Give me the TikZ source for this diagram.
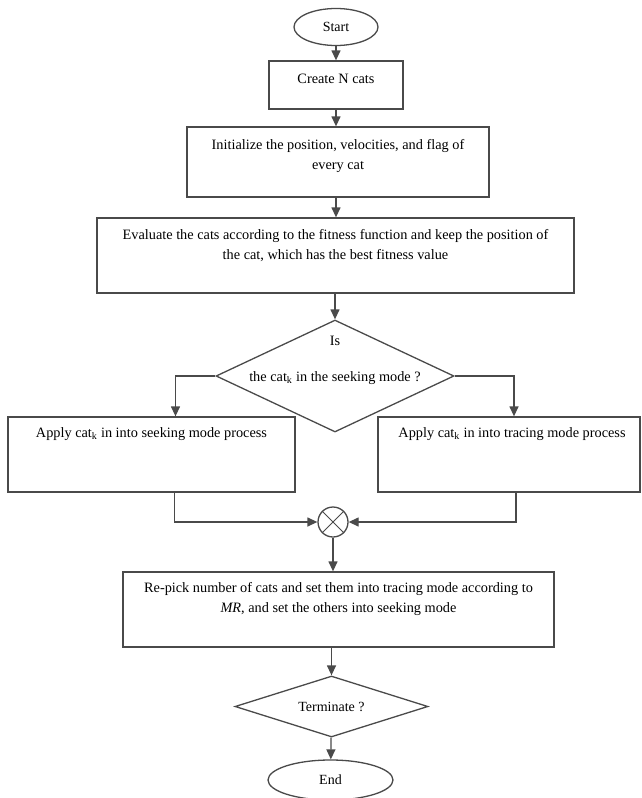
\documentclass[tikz,border=0pt]{standalone}
\usepackage{fontspec}
\setmainfont{Liberation Serif}
\usetikzlibrary{shapes.geometric, arrows.meta}
\definecolor{edge}{HTML}{4A4A4A}

\begin{document}
\begin{tikzpicture}[x=1pt, y=-1pt,
    >={Triangle[length=10pt, width=9pt]},
    box/.style={draw=edge, line width=1.3pt, inner sep=0pt},
    txt/.style={align=center, anchor=north, inner sep=0pt, font=\fontsize{14.3}{20}\selectfont},
    link/.style={->, draw=edge, line width=1.3pt}]

    \useasboundingbox (0,0) rectangle (641,798);

    % terminals and process boxes
    \node[box, ellipse, minimum width=84, minimum height=37, font=\fontsize{14}{15}\selectfont] (start) at (336, 27) {Start};
    \node[box, minimum width=134, minimum height=48] (create) at (336, 85) {};
    \node[box, minimum width=302, minimum height=70] (init) at (338, 162) {};
    \node[box, minimum width=477, minimum height=75] (eval) at (335.5, 255.5) {};
    \node[box, diamond, minimum width=238, minimum height=112] (check) at (335, 376) {};
    \node[box, minimum width=287, minimum height=75] (seek) at (151.5, 454.5) {};
    \node[box, minimum width=262, minimum height=75] (trace) at (509, 454.5) {};
    \node[box, circle, minimum size=30] (sum) at (333, 522) {};
    \node[box, minimum width=431, minimum height=75] (repick) at (338.5, 609.5) {};
    \node[box, diamond, aspect=3, minimum width=193, minimum height=61, font=\fontsize{14}{15}\selectfont] (stop) at (331.5, 706.5) {Terminate ?};
    \node[box, ellipse, minimum width=125, minimum height=40, font=\fontsize{14}{15}\selectfont] (end) at (330.5, 780) {End};

    % texts
    \node[txt] (tcreate) at ([yshift=-13pt]create.north) {Create N cats};
    \node[txt] (tinit) at ([yshift=-13pt]init.north) {Initialize the position, velocities, and flag of\\ every cat};
    \node[txt] (teval) at ([yshift=-12pt]eval.north) {Evaluate the cats according to the fitness function and keep the position of\\ the cat, which has the best fitness value};
    \node[txt, anchor=center] (tis) at (335, 341) {Is};
    \node[txt, anchor=center] (tmode) at (335, 378) {the cat\textsubscript{k} in the seeking mode ?};
    \node[txt] (tseek) at ([yshift=-11pt]seek.north) {Apply cat\textsubscript{k} in into seeking mode process};
    \node[txt] (ttrace) at ([xshift=3pt, yshift=-11pt]trace.north) {Apply cat\textsubscript{k} in into tracing mode process};
    \node[txt] (trepick) at ([yshift=-11pt]repick.north) {Re-pick number of cats and set them into tracing mode according to\\ \textit{MR}, and set the others into seeking mode};

    % connectors
    \draw[link] (start) -- (create);
    \draw[link] (create) -- (create |- init.north);
    \draw[link] (init.south -| create) -- (create |- eval.north);
    \draw[link] (eval.south -| check) -- (check);
    \draw[link] (check.west) -| ([xshift=24pt]seek.north);
    \draw[link] (check.east) -| ([xshift=5pt]trace.north);
    \draw[link] ([xshift=23pt]seek.south) |- (sum.west);
    \draw[link] ([xshift=7pt]trace.south) |- (sum.east);
    \draw[edge, line width=1pt] (sum.north west) -- (sum.south east) (sum.north east) -- (sum.south west);
    \draw[link] (sum) -- (sum |- repick.north);
    \draw[link] (repick.south -| stop) -- (stop);
    \draw[link] (stop) -- (end);

\end{tikzpicture}
\end{document}
